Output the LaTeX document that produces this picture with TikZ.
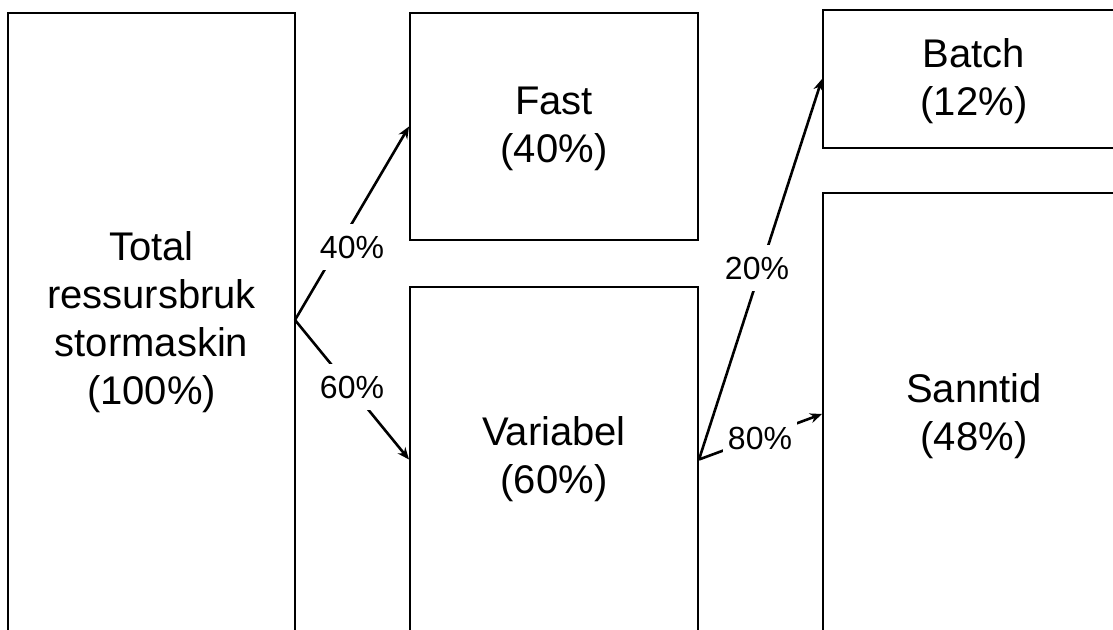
\documentclass[tikz,border=0pt]{standalone}
\usepackage{fontspec}
\setmainfont{Liberation Sans}
\usetikzlibrary{arrows.meta}
\tikzset{
  box/.style={draw=black, line width=1pt, rectangle, inner sep=0pt},
  boxtext/.style={align=center, inner sep=0pt, yshift=-1pt,
    font=\fontsize{20pt}{24pt}\selectfont},
  link/.style={draw=black, line width=1.3pt, -{Stealth[length=6pt,width=5pt]}},
  pct/.style={fill=white, inner xsep=2.5pt, inner ysep=6pt, font=\fontsize{16pt}{19pt}\selectfont}
}
\begin{document}
\begin{tikzpicture}[x=0.5pt,y=-0.5pt]
\useasboundingbox (0,0) rectangle (1113,630);
\clip (0,0) rectangle (1113,630);
\node[box, minimum width=287*0.5pt, minimum height=619*0.5pt] (total) at (151.5,322.5) {};
\node[boxtext] (totaltxt) at (151.5,320) {Total\\ressursbruk\\stormaskin\\(100\%)};
\node[box, minimum width=288*0.5pt, minimum height=227*0.5pt] (fast) at (554,126.5) {};
\node[boxtext] (fasttxt) at (fast.center) {Fast\\(40\%)};
\node[box, minimum width=288*0.5pt, minimum height=345*0.5pt] (var) at (554,459.5) {};
\node[boxtext] (vartxt) at (554,457) {Variabel\\(60\%)};
\node[box, minimum width=302*0.5pt, minimum height=138*0.5pt] (batch) at (974,79) {};
\node[boxtext] (batchtxt) at (batch.center) {Batch\\(12\%)};
\node[box, minimum width=302*0.5pt, minimum height=442*0.5pt] (sann) at (974,414) {};
\node[boxtext] (sanntxt) at (sann.center) {Sanntid\\(48\%)};
\coordinate (src) at (295,320);
\draw[link] (src) -- (fast.west);
\draw[link] (src) -- (var.west);
\draw[link] (var.east) -- (batch.west);
\draw[link] (var.east) -- (sann.west);
\node[pct] (l40) at (352,247) {40\%};
\node[pct] (l60) at (352,387) {60\%};
\node[pct] (l20) at (757,268) {20\%};
\node[pct] (l80) at (760,438) {80\%};
\end{tikzpicture}
\end{document}
